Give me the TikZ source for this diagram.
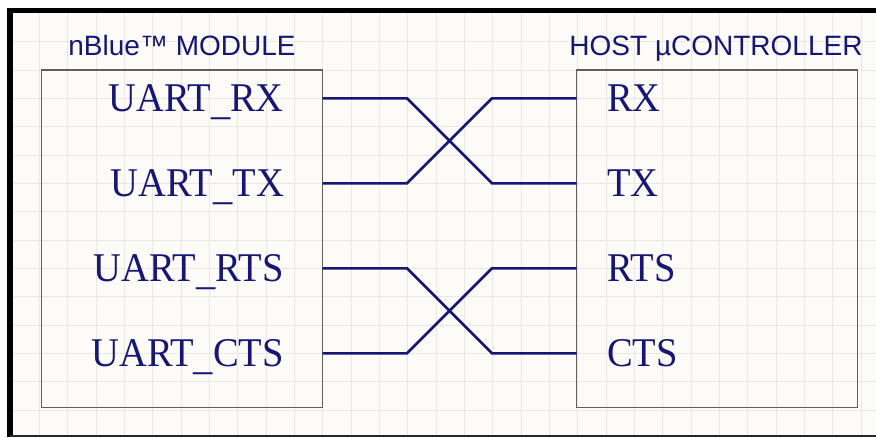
\documentclass[tikz,border=0pt]{standalone}
\usepackage{graphicx}
\usepackage{fontspec}
\setmainfont{Liberation Serif}
\newfontfamily\headfont{Liberation Sans}
\definecolor{sheet}{RGB}{252,251,247}
\definecolor{gridline}{RGB}{234,232,227}
\definecolor{navy}{RGB}{22,22,118}
\definecolor{outline}{RGB}{95,95,95}
\newcommand{\tallpin}[1]{\scalebox{1}[1.06]{#1}}
\newcommand{\lowbar}{\raisebox{-3pt}{\_}}
\begin{document}
\begin{tikzpicture}[x=1pt, y=-1pt,
        box/.style={draw=outline, line width=1.3pt, minimum width=281pt, minimum height=337.5pt, inner sep=0pt},
        title/.style={font=\headfont\fontsize{28}{30}\selectfont, text=navy, anchor=base, inner sep=0pt},
        pin/.style={font=\fontsize{38.5}{40}\selectfont, text=navy, inner sep=0pt},
        wire/.style={draw=navy, line width=2.6pt}]
            \useasboundingbox (0,0) rectangle (876,437);
            \fill[white] (0,0) rectangle (876,437);
            \fill[sheet] (10,10) rectangle (876,436);
            \foreach \i in {1,...,30}
                \draw[gridline, line width=0.8pt] ({11+\i*28.33},13) -- ({11+\i*28.33},435);
            \foreach \j in {1,...,14}
                \draw[gridline, line width=0.8pt] (13,{13.3+\j*28.33}) -- (876,{13.3+\j*28.33});
            \draw[black, line width=6pt] (10.3,7.5) -- (10.3,437);
            \draw[black, line width=5pt] (7.3,10.5) -- (876,10.5);
            \draw[black!85, line width=2pt] (10,436) -- (876,436);

            \node[box] (module) at (182.2,238.75) {};
            \node[box] (host) at (716.7,238.75) {};
            \node[title] (mtitle) at (182,55) {nBlue™ MODULE};
            \node[title] (htitle) at (716,55) {HOST µCONTROLLER};

            \node[pin, anchor=base east] (uartrx) at (284,111.1) {\tallpin{UART\lowbar RX}};
            \node[pin, anchor=base east] (uarttx) at (284,196.1) {\tallpin{UART\lowbar TX}};
            \node[pin, anchor=base east] (uartrts) at (284,281.1) {\tallpin{UART\lowbar RTS}};
            \node[pin, anchor=base east] (uartcts) at (284,366.1) {\tallpin{UART\lowbar CTS}};
            \node[pin, anchor=base west] (rx) at (607,111.1) {\tallpin{RX}};
            \node[pin, anchor=base west] (tx) at (607,196.1) {\tallpin{TX}};
            \node[pin, anchor=base west] (rts) at (607,281.1) {\tallpin{RTS}};
            \node[pin, anchor=base west] (cts) at (607,366.1) {\tallpin{CTS}};

            \coordinate (mrx) at (322.7,98.3);
            \coordinate (mtx) at (322.7,183.3);
            \coordinate (mrts) at (322.7,268.3);
            \coordinate (mcts) at (322.7,353.3);
            \coordinate (hrx) at (576.7,98.3);
            \coordinate (htx) at (576.7,183.3);
            \coordinate (hrts) at (576.7,268.3);
            \coordinate (hcts) at (576.7,353.3);

            \draw[wire] (mrx) -- ++(84.3,0) -- ++(85,85) -- (htx);
            \draw[wire] (mtx) -- ++(84.3,0) -- ++(85,-85) -- (hrx);
            \draw[wire] (mrts) -- ++(84.3,0) -- ++(85,85) -- (hcts);
            \draw[wire] (mcts) -- ++(84.3,0) -- ++(85,-85) -- (hrts);
        \end{tikzpicture}
\end{document}
